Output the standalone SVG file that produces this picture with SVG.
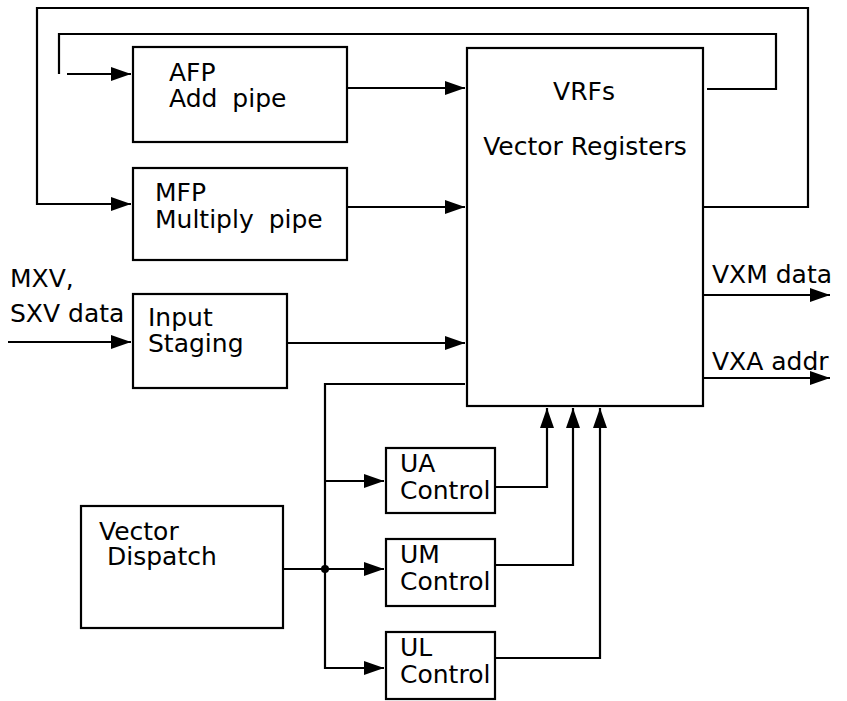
<svg xmlns="http://www.w3.org/2000/svg" width="847" height="701" viewBox="0 0 847 701">
<style>
.box{fill:#fff;stroke:#000;stroke-width:2.2}
.t{font-family:"DejaVu Sans","Liberation Sans",sans-serif;font-size:25px;fill:#000}
.w{word-spacing:7px}
.c{fill:none;stroke:#000;stroke-width:2.2}
</style>
<defs>
<marker id="ah" markerUnits="userSpaceOnUse" markerWidth="22" markerHeight="14" refX="20" refY="7" orient="auto">
<path d="M0,0 L20,7 L0,14 Z" fill="#000"/>
</marker>
</defs>
<rect width="847" height="701" fill="#fff"/>
<g id="connectors">
<path class="c" d="M703,207 H808 V8 H37 V204 H131" marker-end="url(#ah)"/>
<path class="c" d="M707,89 H776 V34 H59 V74"/>
<path class="c" d="M67,74 H131" marker-end="url(#ah)"/>
<path class="c" d="M347,88 H465" marker-end="url(#ah)"/>
<path class="c" d="M347,207 H465" marker-end="url(#ah)"/>
<path class="c" d="M8,342 H131" marker-end="url(#ah)"/>
<path class="c" d="M287,343 H465" marker-end="url(#ah)"/>
<path class="c" d="M465,384 H325 V668 H384" marker-end="url(#ah)"/>
<path class="c" d="M325,481 H384" marker-end="url(#ah)"/>
<path class="c" d="M283,569 H384" marker-end="url(#ah)"/>
<circle cx="325" cy="569" r="4" fill="#000"/>
<path class="c" d="M495,487 H547 V408" marker-end="url(#ah)"/>
<path class="c" d="M495,565 H573 V408" marker-end="url(#ah)"/>
<path class="c" d="M495,658 H600 V408" marker-end="url(#ah)"/>
<path class="c" d="M703,295 H830" marker-end="url(#ah)"/>
<path class="c" d="M703,378 H830" marker-end="url(#ah)"/>
</g>
<g id="afp">
<rect class="box" x="133" y="47" width="214" height="95"/>
<text class="t" x="169" y="81">AFP</text>
<text class="t w" x="169" y="107">Add pipe</text>
</g>
<g id="mfp">
<rect class="box" x="133" y="168" width="214" height="92"/>
<text class="t" x="155" y="201">MFP</text>
<text class="t w" x="155" y="228">Multiply pipe</text>
</g>
<g id="vrf">
<rect class="box" x="467" y="48" width="236" height="358"/>
<text class="t" x="584" y="100" text-anchor="middle">VRFs</text>
<text class="t" x="585" y="155" text-anchor="middle">Vector Registers</text>
</g>
<g id="input">
<rect class="box" x="133" y="294" width="154" height="94"/>
<text class="t" x="148" y="326">Input</text>
<text class="t" x="148" y="352">Staging</text>
</g>
<g id="input-label">
<text class="t" x="10" y="287">MXV,</text>
<text class="t" x="10" y="322">SXV data</text>
</g>
<g id="dispatch">
<rect class="box" x="81" y="506" width="202" height="122"/>
<text class="t" x="99" y="540">Vector</text>
<text class="t" x="107" y="565">Dispatch</text>
</g>
<g id="ua">
<rect class="box" x="386" y="448" width="109" height="65"/>
<text class="t" x="400" y="472">UA</text>
<text class="t" x="400" y="499">Control</text>
</g>
<g id="um">
<rect class="box" x="386" y="539" width="109" height="67"/>
<text class="t" x="400" y="563">UM</text>
<text class="t" x="400" y="590">Control</text>
</g>
<g id="ul">
<rect class="box" x="386" y="632" width="109" height="67"/>
<text class="t" x="400" y="656">UL</text>
<text class="t" x="400" y="683">Control</text>
</g>
<g id="outputs">
<text class="t" x="712" y="283">VXM data</text>
<text class="t" x="712" y="370">VXA addr</text>
</g>
</svg>
